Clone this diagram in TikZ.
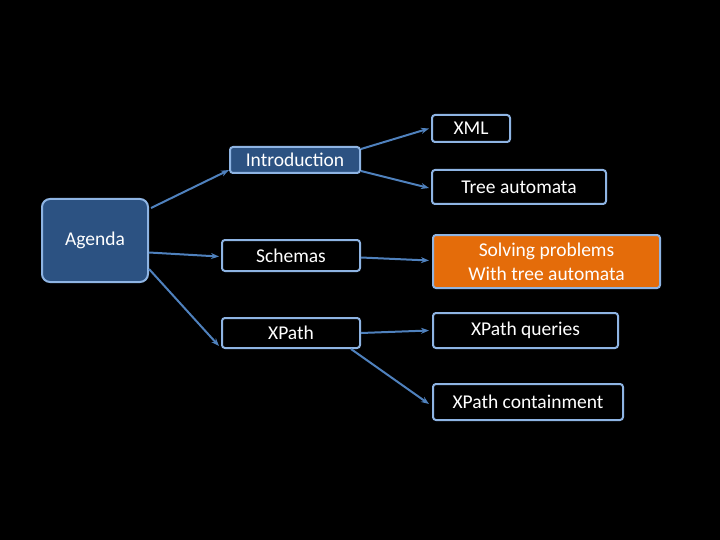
\documentclass[tikz,border=0pt]{standalone}
\usepackage{fontspec}
\setmainfont{Carlito}
\usetikzlibrary{arrows.meta}
\definecolor{bord}{HTML}{8EB4E3}
\definecolor{dblue}{HTML}{2C5282}
\definecolor{conn}{HTML}{4F81BD}
\definecolor{org}{HTML}{E46C0A}
\begin{document}
\begin{tikzpicture}[x=1pt,y=-1pt,
  box/.style={draw=bord,line width=2pt,rounded corners=3pt,text=white,font=\fontsize{19.5}{24}\selectfont,inner sep=0pt,align=center},
  arr/.style={draw=conn,line width=2pt,-{Stealth[length=8pt,width=6pt]}}]
\fill[black] (0,0) rectangle (720,540);
\useasboundingbox (0,0) rectangle (720,540);
\node[box,fill=dblue,minimum width=106,minimum height=83,rounded corners=8pt] (ag) at (95,240.5) {};
\node[text=white,font=\fontsize{19.5}{24}\selectfont] (agt) at (95,240) {Agenda};
\node[box,fill=dblue,minimum width=130,minimum height=26] (intro) at (295,160) {Introduction};
\node[box,fill=black,minimum width=78,minimum height=27] (xml) at (471,128.5) {XML};
\node[box,fill=black,minimum width=174,minimum height=34] (ta) at (519,187) {Tree automata};
\node[box,fill=black,minimum width=138,minimum height=31] (sch) at (291,255.5) {Schemas};
\node[box,fill=org,minimum width=227,minimum height=53] (solve) at (546.5,261.5) {Solving problems\\With tree automata};
\node[box,fill=black,minimum width=138,minimum height=30] (xp) at (291,333) {XPath};
\node[box,fill=black,minimum width=185,minimum height=35] (xq) at (525.5,330.5) {XPath queries};
\node[box,fill=black,minimum width=190,minimum height=36] (xc) at (528,402) {XPath containment};
\draw[arr] ([xshift=2pt,yshift=-10pt]ag.north east) -- ([yshift=4pt]intro.south west);
\draw[arr] ([yshift=-12pt]ag.east) -- ([xshift=-2pt,yshift=-1pt]sch.west);
\draw[arr] ([yshift=14pt]ag.south east) -- ([xshift=-2pt,yshift=-13pt]xp.west);
\draw[arr] ([yshift=-3pt]intro.north east) -- ([xshift=-2pt]xml.west);
\draw[arr] ([yshift=3pt]intro.south east) -- ([xshift=-2pt,yshift=-1pt]ta.west);
\draw[arr] ([yshift=-2pt]sch.east) -- ([xshift=-3pt,yshift=1pt]solve.west);
\draw[arr] (xp.east) -- ([xshift=-3pt]xq.west);
\draw[arr] ([xshift=-10pt]xp.south east) -- ([xshift=-3pt,yshift=-2pt]xc.west);
\end{tikzpicture}
\end{document}
